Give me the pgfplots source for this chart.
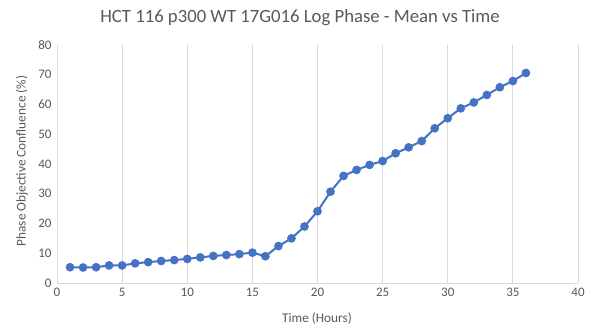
\documentclass[border=0pt]{standalone}
\usepackage{pgfplots}
\pgfplotsset{compat=1.18}
\usepackage{fontspec}
\setmainfont{Carlito}
\definecolor{txt}{HTML}{595959}
\definecolor{gridc}{HTML}{D9D9D9}
\definecolor{ser}{HTML}{4472C4}
\begin{document}
\begin{tikzpicture}[x=1pt,y=1pt]
\useasboundingbox (0,0) rectangle (600,334);
\begin{axis}[
  at={(57pt,51pt)}, anchor=south west,
  scale only axis, width=521pt, height=238pt,
  xmin=0, xmax=40, ymin=0, ymax=80,
  xtick={0,5,...,40}, ytick={0,10,...,80},
  xmajorgrids=true, ymajorgrids=false,
  major grid style={draw=gridc, line width=0.8pt},
  axis line style={draw=none},
  axis x line*=bottom, axis y line*=left,
  tick style={draw=none},
  ticklabel style={font=\fontsize{13}{15}\selectfont, text=txt},
  /pgf/number format/assume math mode=true,
  xticklabel style={yshift=-2pt},
  yticklabel style={xshift=-2pt},
  clip=false,
]
\draw[gridc, line width=0.8pt] (axis cs:0,0) -- (axis cs:40,0);
\addplot[color=ser, line width=2pt, mark=*, mark size=3.3pt, mark options={fill=ser, draw=ser}] coordinates {
(1,5.3) (2,5.2) (3,5.3) (4,5.9) (5,5.9) (6,6.6) (7,7.0) (8,7.4) (9,7.7) (10,8.1)
(11,8.6) (12,9.1) (13,9.4) (14,9.7) (15,10.2) (16,9.0) (17,12.4) (18,15.0) (19,19.0) (20,24.1)
(21,30.7) (22,36.0) (23,38.0) (24,39.7) (25,41.0) (26,43.6) (27,45.6) (28,47.7) (29,52.0) (30,55.4)
(31,58.7) (32,60.7) (33,63.2) (34,65.8) (35,67.9) (36,70.6)
};
\end{axis}
\node[text=txt, font=\fontsize{18.7}{22}\selectfont] at (300,316) {HCT 116 p300 WT 17G016 Log Phase - Mean vs Time};
\node[text=txt, font=\fontsize{13.3}{15}\selectfont] at (317,15) {Time (Hours)};
\node[text=txt, font=\fontsize{13.3}{15}\selectfont, rotate=90] at (22,173) {Phase Objective Confluence (\%)};
\end{tikzpicture}
\end{document}
